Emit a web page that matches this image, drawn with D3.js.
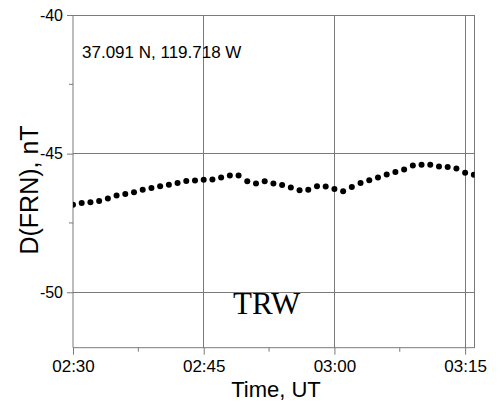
<!DOCTYPE html>
<html>
<head>
<meta charset="utf-8">
<script src="https://cdn.jsdelivr.net/npm/d3@7"></script>
<style>
  html, body { margin: 0; padding: 0; background: #fff; }
  svg { display: block; }
  text { font-family: "Liberation Sans", Arial, sans-serif; fill: #000; }
</style>
</head>
<body>
<script>
// ---- data ----
const times = [
  "02:30","02:31","02:32","02:33","02:34","02:35","02:36","02:37","02:38","02:39",
  "02:40","02:41","02:42","02:43","02:44","02:45","02:46","02:47","02:48","02:49",
  "02:50","02:51","02:52","02:53","02:54","02:55","02:56","02:57","02:58","02:59",
  "03:00","03:01","03:02","03:03","03:04","03:05","03:06","03:07","03:08","03:09",
  "03:10","03:11","03:12","03:13","03:14","03:15","03:16"
];
const values = [
  -46.84,-46.78,-46.75,-46.71,-46.62,-46.51,-46.46,-46.39,-46.30,-46.24,
  -46.18,-46.12,-46.06,-45.99,-45.97,-45.94,-45.93,-45.86,-45.79,-45.79,
  -46.00,-46.08,-46.00,-46.08,-46.13,-46.22,-46.32,-46.30,-46.18,-46.19,
  -46.28,-46.36,-46.20,-46.06,-45.96,-45.86,-45.75,-45.66,-45.57,-45.43,
  -45.40,-45.40,-45.46,-45.48,-45.54,-45.69,-45.76
];
const xTickLabels = ["02:30","02:45","03:00","03:15"];
const xMinorTicks = ["02:37:30","02:52:30","03:07:30"];
const yTicks = [-40,-45,-50];
const yMinorTicks = [-42.5,-47.5];
const xDomain = ["02:30:00","03:16:06"];
const yDomain = [-52,-40];
const stationLabel = "37.091 N, 119.718 W";
const siteLabel = "TRW";
const xTitle = "Time, UT";
const yTitle = "D(FRN), nT";

// ---- helpers ----
const parse = s => {
  const p = s.split(":").map(Number);
  return new Date(Date.UTC(2000,0,1,p[0],p[1],p[2]||0));
};
const fmt = d3.utcFormat("%H:%M");

const W = 502, H = 403;
const L = 73, R = 474.7, T = 15, B = 347.7;
const gridColor = "#7a7a7a";

const svg = d3.select("body").append("svg").attr("width", W).attr("height", H);

const x = d3.scaleUtc().domain(xDomain.map(parse)).range([L, R]);
const y = d3.scaleLinear().domain(yDomain).range([B, T]);

// gridlines
const grid = svg.append("g").attr("stroke", gridColor).attr("stroke-width", 1).attr("shape-rendering", "crispEdges");
grid.selectAll("line.v").data(xTickLabels.slice(1)).join("line")
  .attr("x1", d => x(parse(d))).attr("x2", d => x(parse(d)))
  .attr("y1", T).attr("y2", B);
grid.selectAll("line.h").data(yTicks).join("line")
  .attr("y1", d => y(d)).attr("y2", d => y(d))
  .attr("x1", L).attr("x2", R);
// right border
grid.append("line").attr("x1", R).attr("x2", R).attr("y1", T).attr("y2", B);

// axes
const xAxis = d3.axisBottom(x)
  .tickValues(xTickLabels.map(parse))
  .tickFormat(fmt)
  .tickSize(7).tickPadding(5);
const gx = svg.append("g").attr("transform", `translate(0,${B})`).call(xAxis);
gx.select(".domain").attr("stroke", gridColor).attr("d", `M${L},0H${R}`);
gx.selectAll(".tick line").attr("stroke", gridColor);
gx.selectAll(".tick text").attr("font-size", 17).attr("font-family", "Liberation Sans, Arial, sans-serif").attr("fill", "#000");
gx.selectAll(".minor").data(xMinorTicks).join("line").attr("class", "minor")
  .attr("x1", d => x(parse(d))).attr("x2", d => x(parse(d)))
  .attr("y1", 0).attr("y2", 4).attr("stroke", gridColor);

const yAxis = d3.axisLeft(y).tickValues(yTicks).tickFormat(d => String(d))
  .tickSize(6).tickPadding(4);
const gy = svg.append("g").attr("transform", `translate(${L},0)`).call(yAxis);
gy.select(".domain").attr("stroke", gridColor).attr("d", `M0,${T}V${B}`);
gy.selectAll(".tick line").attr("stroke", gridColor);
gy.selectAll(".tick text").attr("font-size", 16).attr("font-family", "Liberation Sans, Arial, sans-serif").attr("fill", "#000");
gy.selectAll(".minor").data(yMinorTicks).join("line").attr("class", "minor")
  .attr("y1", d => y(d)).attr("y2", d => y(d))
  .attr("x1", -4).attr("x2", 0).attr("stroke", gridColor);

// data
const pts = times.map((t, i) => ({ t: parse(t), v: values[i] }));
svg.append("clipPath").attr("id", "clip").append("rect")
  .attr("x", L).attr("y", T).attr("width", R - L).attr("height", B - T);
const plot = svg.append("g").attr("clip-path", "url(#clip)");
plot.selectAll("circle").data(pts).join("circle")
  .attr("cx", d => x(d.t)).attr("cy", d => y(d.v)).attr("r", 3).attr("fill", "#000");

// texts
svg.append("text").attr("x", 82).attr("y", 58).attr("font-size", 17).text(stationLabel);
svg.append("text").attr("x", 233).attr("y", 314).attr("font-size", 31)
  .style("font-family", "'Liberation Serif', 'Times New Roman', serif").text(siteLabel);
svg.append("text").attr("x", 276).attr("y", 397).attr("text-anchor", "middle").attr("font-size", 22).text(xTitle);
svg.append("text").attr("transform", "translate(38,190) rotate(-90)").attr("text-anchor", "middle")
  .attr("font-size", 25).text(yTitle);
</script>
</body>
</html>
